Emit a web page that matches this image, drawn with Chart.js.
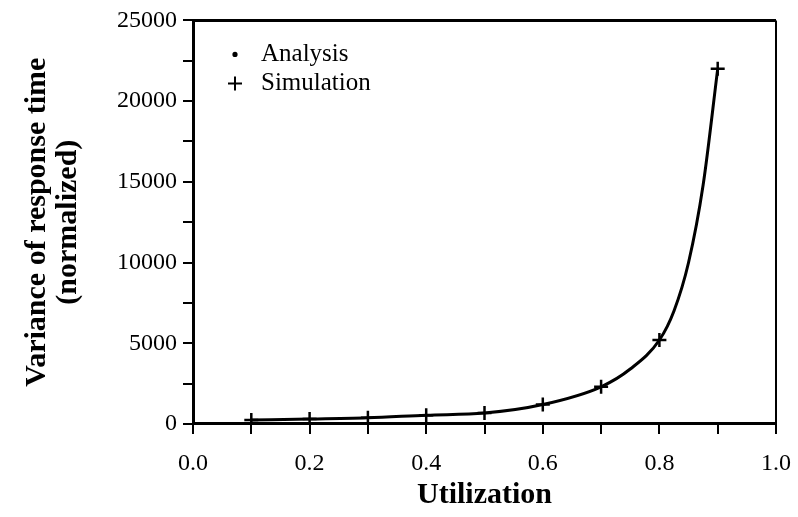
<!DOCTYPE html>
<html>
<head>
<meta charset="utf-8">
<script src="https://cdn.jsdelivr.net/npm/chart.js@4.4.1/dist/chart.umd.min.js"></script>
<style>
  html, body { margin: 0; padding: 0; background: #fff; }
  #wrap { width: 798px; height: 517px; }
</style>
</head>
<body>
<div id="wrap"><canvas id="grafico"></canvas></div>
<script>
// utilization values of the simulation runs and measured variance
const utilization = [0.1, 0.2, 0.3, 0.4, 0.5, 0.6, 0.7, 0.8, 0.9];
const simulation = [250, 300, 380, 540, 670, 1200, 2300, 5200, 22000];

// analytical curve (extra points near the knee so it bends right)
const analysisUtil = [0.1, 0.2, 0.3, 0.4, 0.5, 0.6, 0.7, 0.75, 0.8, 0.825, 0.85, 0.875, 0.9];
const analysisVar = [250, 300, 380, 540, 670, 1200, 2300, 3400, 5200, 7000, 10000, 14800, 22000];

const xLabelStep = 0.2;
const yLabelStep = 5000;

const serif = "'Liberation Serif', 'Times New Roman', serif";

const ctx = document.getElementById("grafico");

// top and right edges of the frame + legend in the upper left
const moldura = {
  id: "moldura",
  afterDraw(chart) {
    const { ctx, chartArea: a } = chart;
    ctx.save();
    ctx.strokeStyle = "#000";
    ctx.lineWidth = 3;
    ctx.beginPath();
    ctx.moveTo(a.left, a.top);
    ctx.lineTo(a.right, a.top);
    ctx.stroke();
    ctx.lineWidth = 2;
    ctx.beginPath();
    ctx.moveTo(a.right, a.top);
    ctx.lineTo(a.right, a.bottom);
    ctx.stroke();

    // legenda
    ctx.font = "25px " + serif;
    ctx.fillStyle = "#000";
    ctx.textBaseline = "middle";
    chart.data.datasets.forEach((ds, i) => {
      const y = a.top + 34 + i * 29;
      const x = a.left + 42;
      Chart.helpers.drawPoint(ctx, {
        pointStyle: ds.pointStyle,
        radius: ds.legendRadius,
        borderWidth: ds.borderWidth,
        rotation: 0
      }, x, y);
      if (ds.pointStyle === "circle") {
        ctx.fill();
      }
      ctx.fillText(ds.label, a.left + 68, y);
    });
    ctx.restore();
  }
};

new Chart(ctx, {
  type: "scatter",
  data: {
    datasets: [
      {
        label: "Analysis",
        data: analysisUtil.map((u, i) => ({ x: u, y: analysisVar[i] })),
        showLine: true,
        cubicInterpolationMode: "monotone",
        borderColor: "#000",
        backgroundColor: "#000",
        borderWidth: 3,
        pointStyle: "circle",
        pointRadius: 0,
        legendRadius: 1.6,
      },
      {
        label: "Simulation",
        data: utilization.map((u, i) => ({ x: u, y: simulation[i] })),
        showLine: false,
        borderColor: "#000",
        backgroundColor: "#000",
        borderWidth: 2.5,
        pointStyle: "cross",
        pointRadius: 7,
        legendRadius: 7,
      },
    ],
  },
  plugins: [moldura],
  options: {
    responsive: true,
    maintainAspectRatio: false,
    animation: false,
    layout: { padding: { left: 0, right: 13, top: 19, bottom: 0 } },
    plugins: {
      legend: { display: false },
      tooltip: { enabled: false },
    },
    scales: {
      x: {
        type: "linear",
        min: 0,
        max: 1,
        border: { display: true, color: "#000", width: 3 },
        grid: { drawOnChartArea: false, color: "#000", lineWidth: 2, tickLength: 10 },
        ticks: {
          stepSize: 0.1,
          color: "#000",
          padding: 7,
          maxRotation: 0,
          autoSkip: false,
          font: { family: serif, size: 24, lineHeight: 1.92 },
          callback: (v) => (Math.round(v * 10) % Math.round(xLabelStep * 10) === 0 ? v.toFixed(1) : ""),
        },
        title: {
          display: true,
          text: "Utilization",
          color: "#000",
          padding: { top: -17, bottom: 4 },
          font: { family: serif, size: 30, weight: "bold" },
        },
      },
      y: {
        min: 0,
        max: 25000,
        border: { display: true, color: "#000", width: 3 },
        grid: { drawOnChartArea: false, color: "#000", lineWidth: 2, tickLength: 10 },
        ticks: {
          stepSize: 2500,
          color: "#000",
          padding: 6,
          autoSkip: false,
          font: { family: serif, size: 24 },
          callback: (v) => (v % yLabelStep === 0 ? String(v) : ""),
        },
        title: {
          display: true,
          text: ["Variance of response time", "(normalized)"],
          color: "#000",
          padding: { top: 21, bottom: 27 },
          font: { family: serif, size: 30, weight: "bold", lineHeight: 1.05 },
        },
      },
    },
  },
});
</script>
</body>
</html>
